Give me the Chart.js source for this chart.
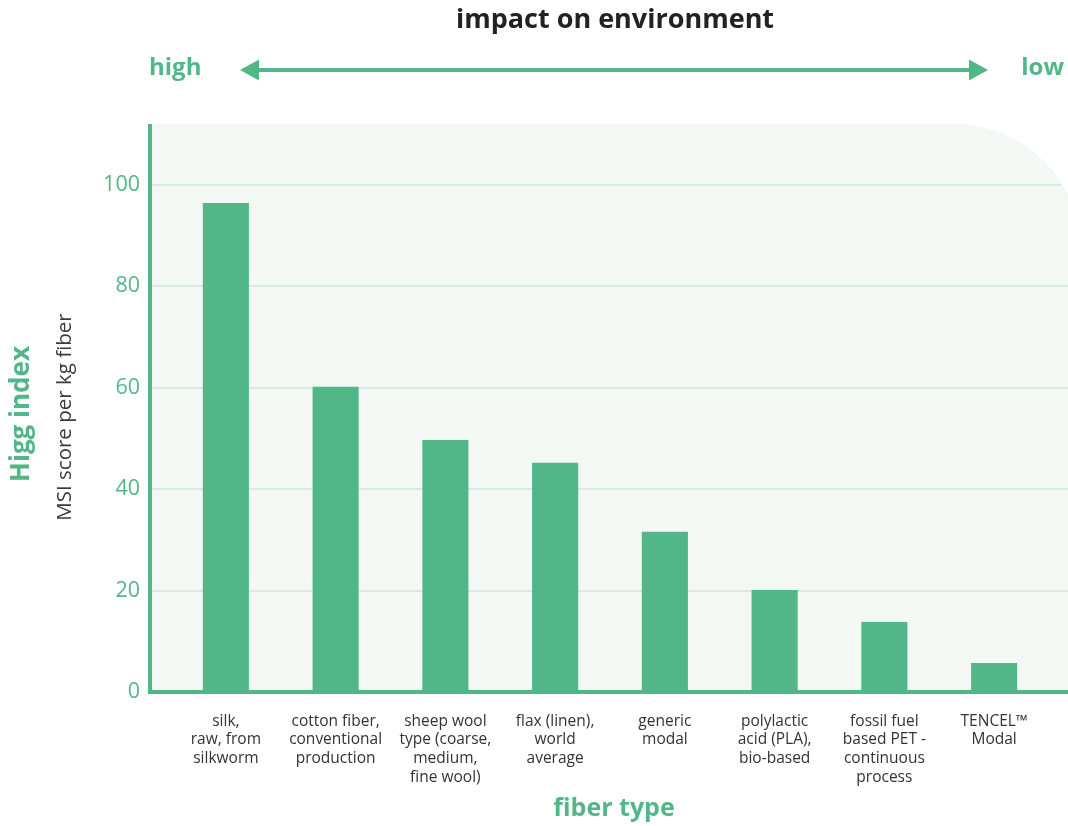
<!DOCTYPE html>
<html>
<head>
<meta charset="utf-8">
<script src="https://cdn.jsdelivr.net/npm/chart.js@4/dist/chart.umd.min.js"></script>
<style>
  html, body { margin: 0; padding: 0; background: #fff; }
  #wrap { width: 1068px; height: 826px; }
</style>
</head>
<body>
<div id="wrap"><canvas id="higgChart"></canvas></div>
<script>
// fiber types and their Higg MSI score (per kg fiber)
const fiberTypes = [
    ['silk,', 'raw, from', 'silkworm'],
    ['cotton fiber,', 'conventional', 'production'],
    ['sheep wool', 'type (coarse,', 'medium,', 'fine wool)'],
    ['flax (linen),', 'world', 'average'],
    ['generic', 'modal'],
    ['polylactic', 'acid (PLA),', 'bio-based'],
    ['fossil fuel', 'based PET -', 'continuous', 'process'],
    ['TENCEL™', 'Modal']
];
const msiScores = [96.4, 60.2, 49.7, 45.2, 31.6, 20.1, 13.8, 5.7];
const yTicks = [0, 20, 40, 60, 80, 100];

const green = '#52b788';
const font = '"Open Sans", "Noto Sans", sans-serif';

// background panel, grid lines, axis lines and the extra texts
const decorPlugin = {
    id: 'decor',
    beforeDraw(chart) {
        const ctx = chart.ctx;
        const y = chart.scales.y;
        ctx.save();
        ctx.fillStyle = '#ffffff';
        ctx.fillRect(0, 0, chart.width, chart.height);

        // panel with rounded top right corner
        const left = 150, top = 124, right = 1080, bottom = 692, r = 125;
        ctx.beginPath();
        ctx.moveTo(left, top);
        ctx.lineTo(right - r, top);
        ctx.arcTo(right, top, right, top + r, r);
        ctx.lineTo(right, bottom);
        ctx.lineTo(left, bottom);
        ctx.closePath();
        ctx.fillStyle = '#f3f8f5';
        ctx.fill();
        ctx.clip();

        ctx.strokeStyle = '#d5ebdf';
        ctx.lineWidth = 2;
        yTicks.slice(1).forEach(v => {
            const py = Math.round(y.getPixelForValue(v));
            ctx.beginPath();
            ctx.moveTo(left, py);
            ctx.lineTo(v === 100 ? 1061 : right, py);
            ctx.stroke();
        });
        ctx.restore();
    },
    afterDatasetsDraw(chart) {
        const ctx = chart.ctx;
        const y0 = chart.scales.y.getPixelForValue(0);
        ctx.save();

        // axis lines
        ctx.fillStyle = green;
        ctx.fillRect(148, 124, 4, y0 - 124 + 2);
        ctx.fillRect(148, y0 - 2, chart.width - 148, 4);

        // title
        ctx.fillStyle = '#222222';
        ctx.font = 'bold 27px ' + font;
        ctx.textAlign = 'center';
        ctx.textBaseline = 'middle';
        ctx.fillText('impact on environment', 615, 20);

        // high / low with arrow
        ctx.fillStyle = green;
        ctx.font = 'bold 24px ' + font;
        ctx.textAlign = 'left';
        ctx.fillText('high', 149, 68);
        ctx.textAlign = 'right';
        ctx.fillText('low', 1064, 68);

        ctx.strokeStyle = green;
        ctx.lineWidth = 4;
        ctx.beginPath();
        ctx.moveTo(255, 70);
        ctx.lineTo(972, 70);
        ctx.stroke();
        ctx.beginPath();
        ctx.moveTo(240, 70);
        ctx.lineTo(259, 59.5);
        ctx.lineTo(259, 80.5);
        ctx.closePath();
        ctx.fill();
        ctx.beginPath();
        ctx.moveTo(988, 70);
        ctx.lineTo(969, 59.5);
        ctx.lineTo(969, 80.5);
        ctx.closePath();
        ctx.fill();

        // x axis title
        ctx.textAlign = 'center';
        ctx.font = 'bold 25px ' + font;
        ctx.fillText('fiber type', 614, 809);

        // y axis titles
        ctx.translate(22, 414);
        ctx.rotate(-Math.PI / 2);
        ctx.font = 'bold 26px ' + font;
        ctx.fillText('Higg index', 0, 0);
        ctx.restore();

        ctx.save();
        ctx.translate(65, 417);
        ctx.rotate(-Math.PI / 2);
        ctx.fillStyle = '#3a3a3a';
        ctx.font = '20.5px ' + font;
        ctx.textAlign = 'center';
        ctx.textBaseline = 'middle';
        ctx.fillText('MSI score per kg fiber', 0, 0);
        ctx.restore();
    }
};

const higgCtx = document.getElementById('higgChart').getContext('2d');
const higgChart = new Chart(higgCtx, {
    type: 'bar',
    data: {
        labels: fiberTypes,
        datasets: [{
            label: 'MSI score per kg fiber',
            data: msiScores,
            backgroundColor: green,
            borderWidth: 0,
            categoryPercentage: 1,
            barPercentage: 0.42
        }]
    },
    options: {
        responsive: true,
        maintainAspectRatio: false,
        animation: false,
        layout: { padding: { top: 124, right: 19, left: 0, bottom: 0 } },
        plugins: {
            legend: { display: false },
            tooltip: { enabled: false }
        },
        scales: {
            x: {
                grid: { display: false, drawTicks: false },
                border: { display: false },
                ticks: {
                    color: '#333333',
                    padding: 20,
                    maxRotation: 0,
                    autoSkip: false,
                    font: { family: font, size: 15.5, lineHeight: 1.2 }
                },
                afterFit(scale) { scale.height = 134; }
            },
            y: {
                min: 0,
                max: 112,
                grid: { display: false, drawTicks: false },
                border: { display: false },
                ticks: {
                    color: green,
                    padding: 31,
                    font: { family: font, size: 21.5 }
                },
                afterBuildTicks(scale) {
                    scale.ticks = yTicks.map(v => ({ value: v }));
                },
                afterFit(scale) { scale.width = 171; }
            }
        }
    },
    plugins: [decorPlugin]
});
</script>
</body>
</html>
